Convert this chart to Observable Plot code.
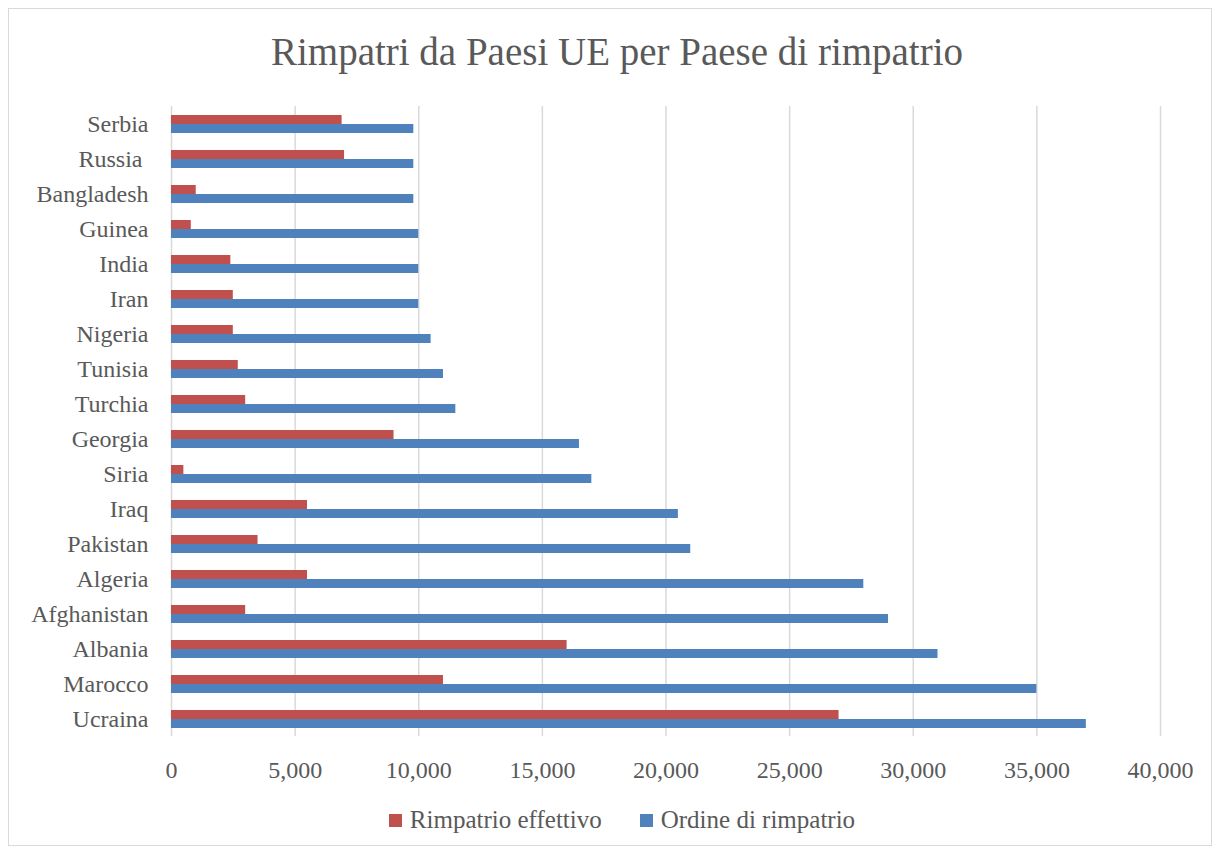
<!DOCTYPE html>
<html>
<head>
<meta charset="utf-8">
<script src="https://cdn.jsdelivr.net/npm/d3@7"></script>
<script src="https://cdn.jsdelivr.net/npm/@observablehq/plot@0.6"></script>
<style>
  html, body { margin: 0; padding: 0; background: #fff; }
  #wrap { position: relative; width: 1214px; height: 850px; font-family: "Liberation Serif", serif; color: #595959; }
  #frame { position: absolute; left: 8px; top: 8px; width: 1204px; height: 838px; border: 1px solid #d9d9d9; box-sizing: border-box; }
  #title { position: absolute; left: 0; top: 30px; width: 1214px; text-align: center; font-size: 39px; line-height: 44px; padding-left: 20px; box-sizing: border-box; }
  #chart { position: absolute; left: 0; top: 90px; }
  #legend { position: absolute; left: 0; top: 805px; width: 1214px; display: flex; justify-content: center; align-items: center; font-size: 25px; line-height: 30px; padding-left: 30px; box-sizing: border-box; }
  .item { display: flex; align-items: center; margin: 0 19px; }
  .sw { width: 13px; height: 13px; margin-right: 8px; }
</style>
</head>
<body>
<div id="wrap">
  <div id="frame"></div>
  <div id="title">Rimpatri da Paesi UE per Paese di rimpatrio</div>
  <div id="chart"></div>
  <div id="legend"></div>
</div>
<script>
const countries = ["Serbia", "Russia ", "Bangladesh", "Guinea", "India", "Iran", "Nigeria", "Tunisia", "Turchia", "Georgia", "Siria", "Iraq", "Pakistan", "Algeria", "Afghanistan", "Albania", "Marocco", "Ucraina"];
const effettivo = [6900, 7000, 1000, 800, 2400, 2500, 2500, 2700, 3000, 9000, 500, 5500, 3500, 5500, 3000, 16000, 11000, 27000];
const ordine = [9800, 9800, 9800, 10000, 10000, 10000, 10500, 11000, 11500, 16500, 17000, 20500, 21000, 28000, 29000, 31000, 35000, 37000];
const seriesNames = ["Rimpatrio effettivo", "Ordine di rimpatrio"];
const seriesColors = ["#C0504D", "#4F81BD"];
const xTicks = [0, 5000, 10000, 15000, 20000, 25000, 30000, 35000, 40000];

const data = [];
countries.forEach((c, i) => {
  data.push({country: c, series: seriesNames[0], value: effettivo[i]});
  data.push({country: c, series: seriesNames[1], value: ordine[i]});
});

const chart = Plot.plot({
  width: 1214,
  height: 700,
  marginLeft: 171,
  marginRight: 54,
  marginTop: 15,
  marginBottom: 54,
  style: {fontFamily: "'Liberation Serif', serif", fontSize: "24px", color: "#595959", background: "transparent"},
  x: {domain: [0, 40000], ticks: xTicks, tickFormat: d3.format(","), tickSize: 0, tickPadding: 24, label: null},
  y: {domain: seriesNames, paddingInner: 0, paddingOuter: 0.84, axis: null},
  fy: {domain: countries, padding: 0, axis: "left", label: null, tickSize: 0, tickPadding: 23},
  color: {domain: seriesNames, range: seriesColors},
  marks: [
    Plot.ruleX(xTicks, {stroke: "#d9d9d9", strokeWidth: 1.5}),
    Plot.barX(data, {x: "value", y: "series", fy: "country", fill: "series"})
  ]
});
document.getElementById("chart").appendChild(chart);

const legend = document.getElementById("legend");
seriesNames.forEach((s, i) => {
  const item = document.createElement("div");
  item.className = "item";
  const sw = document.createElement("div");
  sw.className = "sw";
  sw.style.background = seriesColors[i];
  const t = document.createElement("span");
  t.textContent = s;
  item.appendChild(sw);
  item.appendChild(t);
  legend.appendChild(item);
});
</script>
</body>
</html>
